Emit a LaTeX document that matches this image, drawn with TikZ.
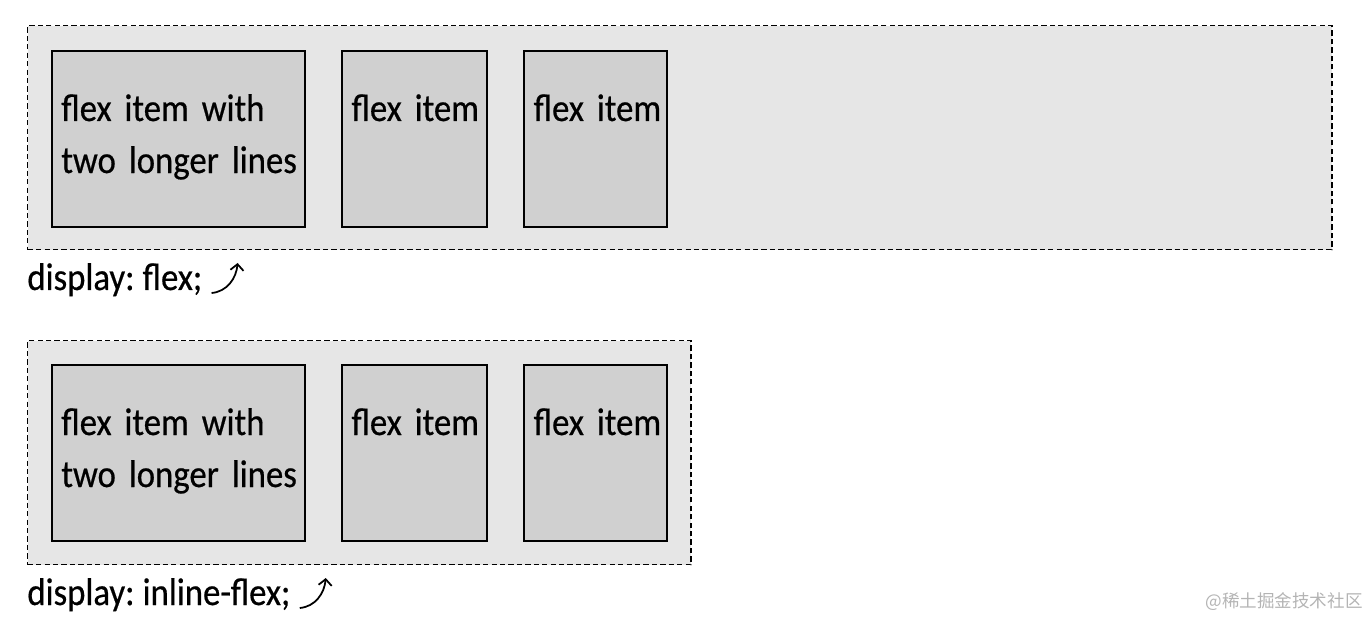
\documentclass[tikz,border=0pt]{standalone}
\usepackage{fontspec}
\setmainfont{Carlito}[FakeStretch=0.9, FakeBold=0.5, WordSpace=0.7]
\newfontfamily\cjk{Noto Sans CJK SC}
\usetikzlibrary{positioning,arrows.meta}
\newdimen\pxu
\pxu=0.02cm
\definecolor{boxgray}{HTML}{E6E6E6}
\definecolor{itemgray}{HTML}{D0D0D0}
\definecolor{markgray}{HTML}{B4B4B4}
\tikzstyle{container} = [draw, fill=boxgray, line width=0.85pt, dash pattern=on 3pt off 1.8pt, inner sep=0pt, anchor=north west, minimum height=224\pxu]
\tikzstyle{item} = [draw, fill=itemgray, line width=0.95pt, inner sep=0pt, minimum height=176\pxu]
\tikzstyle{itemtext} = [anchor=base west, inner sep=0pt, text width=260\pxu, align=left, font=\fontsize{22}{29.6}\selectfont]
\tikzstyle{caption} = [anchor=base west, inner sep=0pt, font=\fontsize{22}{25}\selectfont]
\tikzstyle{curl} = [draw, line width=1pt, -{Straight Barb[length=3.5pt,width=7.5pt]}]

\begin{document}
\begin{tikzpicture}[x=0.02cm, y=-0.02cm]
\useasboundingbox (0,0) rectangle (1369,618);
% display: flex
	%	container and items
    \node [container, minimum width=1304\pxu] (flexbox) at (27,25) {};
    \node [item, anchor=north west, minimum width=253\pxu] (fa) at ([shift={(24,25)}]flexbox.north west) {};
    \node [item, right=35.5\pxu of fa, minimum width=145\pxu] (fb) {};
    \node [item, right=35.5\pxu of fb, minimum width=143\pxu] (fc) {};
    \node [itemtext] (fatext) at ([shift={(10,71)}]fa.north west) {flex item with\\two longer lines};
    \node [itemtext] (fbtext) at ([shift={(10,71)}]fb.north west) {flex item};
    \node [itemtext] (fctext) at ([shift={(10,71)}]fc.north west) {flex item};
    %	caption
    \node [caption] (flexlbl) at (27,290) {display: flex;};
    \coordinate (flexfrom) at ([shift={(9,3)}]flexlbl.base east);
    \coordinate (flexto) at ([shift={(35,-27)}]flexlbl.base east);
    \path [curl] (flexfrom) to[out=5, in=-95] (flexto);
% display: inline-flex
	%	container and items
    \node [container, minimum width=663\pxu] (inlinebox) at (27,340) {};
    \node [item, anchor=north west, minimum width=253\pxu] (ia) at ([shift={(24,24)}]inlinebox.north west) {};
    \node [item, right=35.5\pxu of ia, minimum width=145\pxu] (ib) {};
    \node [item, right=35.5\pxu of ib, minimum width=143\pxu] (ic) {};
    \node [itemtext] (iatext) at ([shift={(10,71)}]ia.north west) {flex item with\\two longer lines};
    \node [itemtext] (ibtext) at ([shift={(10,71)}]ib.north west) {flex item};
    \node [itemtext] (ictext) at ([shift={(10,71)}]ic.north west) {flex item};
    %	caption
    \node [caption] (inlinelbl) at (27,605) {display: inline-flex;};
    \coordinate (inlinefrom) at ([shift={(9,3)}]inlinelbl.base east);
    \coordinate (inlineto) at ([shift={(35,-27)}]inlinelbl.base east);
    \path [curl] (inlinefrom) to[out=5, in=-95] (inlineto);
% watermark
    \node [anchor=base east, inner sep=0pt, text=markgray, font=\cjk\fontsize{10}{12}\selectfont] (mark) at (1363,607) {@稀土掘金技术社区};
\end{tikzpicture}
\end{document}
